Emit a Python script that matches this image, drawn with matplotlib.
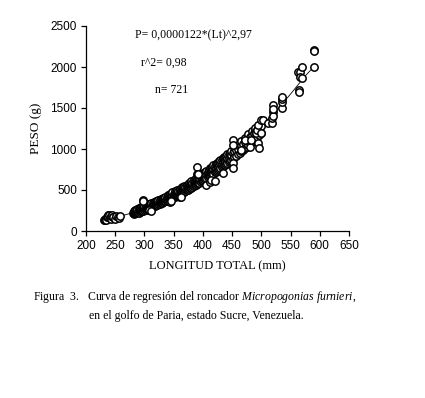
import matplotlib
matplotlib.use("Agg")
import matplotlib.pyplot as plt
import matplotlib.ticker as ticker

plt.rcParams['font.family'] = ['Liberation Serif']
plt.rcParams['mathtext.fontset'] = 'custom'
plt.rcParams['mathtext.rm'] = 'Liberation Serif'
plt.rcParams['mathtext.it'] = 'Liberation Serif:italic'
plt.rcParams['axes.unicode_minus'] = False

# small fish cluster
small_lt = [230, 232, 233, 235, 236, 237, 238, 240, 241, 242, 243, 245, 246, 247, 250, 252, 255, 257, 258]
small_w = [135, 150, 140, 130, 165, 190, 175, 195, 160, 150, 180, 200, 165, 170, 150, 185, 175, 160, 180]

# dense band, each length with its weights
band_rows = [
    (280, [220]), (282, [205, 225, 245]), (284, [215, 240, 260]), (286, [220, 235, 250]),
    (288, [230, 250, 270]), (290, [225, 255, 280]), (292, [235, 255, 275]), (294, [240, 265, 290]),
    (296, [245, 265, 285]), (298, [250, 280, 300]), (300, [255, 285, 310]), (302, [260, 280, 300]),
    (304, [270, 295, 320]), (306, [275, 295, 315]), (308, [280, 305, 330]), (310, [285, 305, 325]),
    (312, [290, 320, 340]), (314, [300, 320, 340]), (316, [305, 330, 355]), (318, [310, 330, 350]),
    (320, [315, 345, 365]), (322, [320, 340, 360]), (324, [325, 355, 380]), (326, [335, 355, 375]),
    (328, [340, 370, 395]), (330, [345, 365, 385]), (332, [350, 380, 405]), (334, [360, 380, 400]),
    (336, [365, 395, 420]), (338, [370, 390, 410]), (340, [380, 410, 440]), (342, [385, 405, 425]),
    (344, [390, 425, 455]), (346, [400, 420, 440]), (348, [405, 440, 470]), (350, [410, 435, 455]),
    (352, [420, 455, 485]), (354, [425, 450, 470]), (356, [435, 470, 500]), (358, [440, 465, 490]),
    (360, [450, 485, 515]), (362, [455, 480, 505]), (364, [465, 500, 535]), (366, [470, 495, 520]),
    (368, [480, 520, 550]), (370, [485, 510, 535]), (372, [495, 535, 565]), (374, [500, 525, 550]),
    (376, [510, 550, 585]), (378, [520, 545, 570]), (380, [525, 570, 605]), (382, [535, 560, 590]),
    (384, [545, 590, 625]), (386, [555, 580, 610]), (388, [560, 610, 645]), (390, [570, 600, 630]),
    (392, [580, 625, 665]), (394, [590, 620, 650]), (396, [600, 645, 685]), (398, [610, 640, 670]),
    (400, [615, 665, 705]), (402, [625, 655, 690]), (404, [635, 675, 715]), (406, [645, 695, 735]),
    (408, [655, 690, 725]), (410, [665, 710, 750]), (412, [670, 725, 765]), (414, [685, 720, 760]),
    (416, [690, 740, 780]), (418, [700, 760, 800]), (420, [715, 755, 795]), (422, [725, 770, 815]),
    (424, [735, 790, 835]), (426, [745, 785, 830]), (428, [755, 805, 850]), (430, [765, 825, 870]),
    (432, [775, 820, 865]), (434, [790, 840, 885]), (436, [800, 860, 905]), (438, [810, 855, 900]),
    (440, [820, 875, 920]), (442, [830, 895, 940]), (444, [845, 890, 935]), (446, [855, 910, 955]),
    (448, [865, 930, 980]), (451, [880, 950]), (454, [900, 970, 1020]), (457, [915, 990]),
    (460, [935, 1005, 1060]), (463, [950, 1025]), (466, [970, 1045, 1100]), (469, [990, 1065]),
    (472, [1010, 1085, 1140]), (475, [1030, 1105]), (478, [1050, 1130, 1180]), (481, [1070, 1150]),
    (484, [1090, 1170, 1220]), (487, [1110, 1190]), (490, [1130, 1215, 1260]), (493, [1150, 1235]),
    (496, [1175, 1255]), (499, [1200, 1280]),
]

# scattered points off the band and the large fish
spread_lt = [297, 297, 308, 312, 343, 346, 360, 362, 390, 390, 392, 405, 412, 414, 420, 434,
             451, 451, 452, 452, 466, 472, 481, 483, 491, 492, 495, 495, 496, 499, 500, 503,
             512, 519, 519, 520, 520, 520, 520, 535, 535, 535, 535, 564, 564, 563, 566, 567,
             569, 570, 590, 590, 590]
spread_w = [380, 360, 255, 250, 357, 370, 420, 410, 780, 690, 700, 560, 600, 620, 610, 705,
            830, 770, 1110, 1050, 988, 1110, 1028, 1110, 1191, 1232, 1293, 1069, 1008, 1191, 1354, 1354,
            1313, 1313, 1374, 1455, 1400, 1537, 1490, 1496, 1577, 1610, 1638, 1720, 1699, 1943, 1943, 1882,
            2004, 1862, 2004, 2207, 2190]

# regression curve P = 0.0000122*Lt^2.97
fit_lt = [235, 250, 275, 300, 325, 350, 375, 400, 425, 450, 475, 500, 525, 550, 575, 590]
fit_w = [134, 161, 214, 277, 351, 438, 538, 652, 781, 925, 1086, 1264, 1462, 1670, 1890, 2004]

band_lt = [lt for lt, ws in band_rows for w in ws]
band_w = [w for lt, ws in band_rows for w in ws]
all_lt = small_lt + band_lt + spread_lt
all_w = small_w + band_w + spread_w

fig = plt.figure(figsize=(4.25, 3.98), dpi=100)
ax = fig.add_axes([86 / 425, 1 - 231 / 398, 263 / 425, 205 / 398])

ax.plot(fit_lt, fit_w, color='black', lw=0.6, zorder=1)
ax.scatter(all_lt, all_w, s=28, facecolors='white', edgecolors='black', linewidths=1.1, zorder=2)

ax.set_xlim(200, 650)
ax.set_ylim(0, 2500)
ax.xaxis.set_major_locator(ticker.MultipleLocator(50))
ax.yaxis.set_major_locator(ticker.MultipleLocator(500))
ax.spines['top'].set_visible(False)
ax.spines['right'].set_visible(False)
ax.spines['left'].set_linewidth(0.9)
ax.spines['bottom'].set_linewidth(0.9)
ax.tick_params(direction='out', length=3.5, width=0.9, pad=3)
for lab in ax.get_xticklabels() + ax.get_yticklabels():
    lab.set_fontfamily('Liberation Sans')
    lab.set_fontsize(8.5)

ax.set_xlabel("LONGITUD TOTAL (mm)", fontsize=9, labelpad=6)
ax.set_ylabel("PESO (g)", fontsize=9.5, labelpad=6)

fig.text(135 / 425, 1 - 35 / 398, "P= 0,0000122*(Lt)^2,97", fontsize=8.5, va='center')
fig.text(141 / 425, 1 - 63 / 398, "r^2= 0,98", fontsize=8.5, va='center')
fig.text(155 / 425, 1 - 90 / 398, "n= 721", fontsize=8.5, va='center')

fig.text(33 / 425, 1 - 297 / 398, "Figura  3.   Curva de regresión del roncador $\\it{Micropogonias\\ furnieri}$,",
         fontsize=8.5, va='center')
fig.text(89 / 425, 1 - 316 / 398, "en el golfo de Paria, estado Sucre, Venezuela.", fontsize=8.5, va='center')

fig.savefig("out.png", dpi=100)
